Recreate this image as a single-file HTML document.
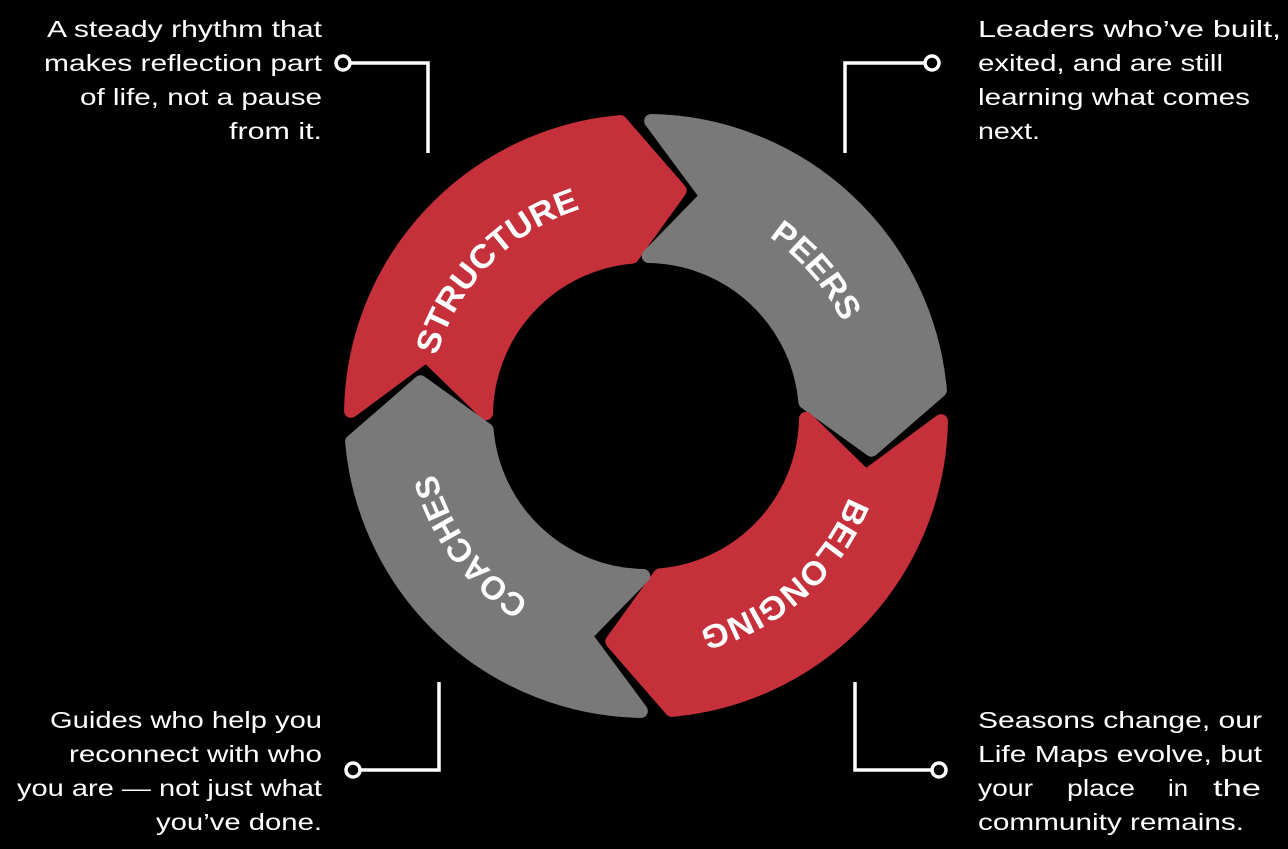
<!DOCTYPE html>
<html><head><meta charset="utf-8"><style>
html,body{margin:0;padding:0;background:#000;}
svg{display:block;}
.t{font-family:"Liberation Sans",Arial,sans-serif;font-size:23px;fill:#fff;}
.s{font-family:"Liberation Sans",Arial,sans-serif;font-size:33px;font-weight:bold;fill:#fff;}
</style></head><body>
<svg width="1288" height="849" viewBox="0 0 1288 849" xmlns="http://www.w3.org/2000/svg">
<rect width="1288" height="849" fill="#000"/>
<defs>
<path id="seg" d="M 351.04 410.85 A 295 295 0 0 1 620.29 122.12 L 679.7 190.5 L 632.05 256.61 A 160 160 0 0 0 486.02 413.21 L 426.3 355.1 Z" stroke-width="14" stroke-linejoin="round"/>
<path id="circ" d="M 646 635 A 217 217 0 1 1 646 199 A 217 217 0 1 1 646 635" fill="none"/>
</defs>
<use href="#seg" fill="#c6303a" stroke="#c6303a"/>
<use href="#seg" fill="#797979" stroke="#797979" transform="rotate(90 646 416)"/>
<use href="#seg" fill="#c6303a" stroke="#c6303a" transform="rotate(180 646 416)"/>
<use href="#seg" fill="#797979" stroke="#797979" transform="rotate(270 646 416)"/>

<text class="s"><textPath href="#circ" startOffset="511" text-anchor="middle" textLength="214" lengthAdjust="spacingAndGlyphs">STRUCTURE</textPath></text>
<text class="s"><textPath href="#circ" startOffset="872" text-anchor="middle" textLength="114" lengthAdjust="spacingAndGlyphs">PEERS</textPath></text>
<text class="s"><textPath href="#circ" startOffset="1212" text-anchor="middle" textLength="207" lengthAdjust="spacingAndGlyphs">BELONGING</textPath></text>
<text class="s"><textPath href="#circ" startOffset="204" text-anchor="middle" textLength="162" lengthAdjust="spacingAndGlyphs">COACHES</textPath></text>

<g stroke="#fff" stroke-width="3.5" fill="none">
<polyline points="350,63 428,63 428,153"/>
<circle cx="343" cy="63" r="7" fill="#000"/>
<polyline points="925,63 845,63 845,153"/>
<circle cx="932" cy="63" r="7" fill="#000"/>
<polyline points="360,770 439,770 439,682"/>
<circle cx="353" cy="770" r="7" fill="#000"/>
<polyline points="932,770 855,770 855,682"/>
<circle cx="939" cy="770" r="7" fill="#000"/>
</g>

<g class="t" text-anchor="end">
<text x="322" y="37" textLength="275" lengthAdjust="spacingAndGlyphs">A steady rhythm that</text>
<text x="322" y="71" textLength="278" lengthAdjust="spacingAndGlyphs">makes reflection part</text>
<text x="322" y="105" textLength="242" lengthAdjust="spacingAndGlyphs">of life, not a pause</text>
<text x="322" y="139" textLength="93" lengthAdjust="spacingAndGlyphs">from it.</text>
<text x="322" y="728" textLength="272" lengthAdjust="spacingAndGlyphs">Guides who help you</text>
<text x="322" y="762" textLength="253" lengthAdjust="spacingAndGlyphs">reconnect with who</text>
<text x="322" y="796" textLength="305" lengthAdjust="spacingAndGlyphs">you are — not just what</text>
<text x="322" y="830" textLength="166" lengthAdjust="spacingAndGlyphs">you’ve done.</text>
</g>
<g class="t">
<text x="978" y="37" textLength="303" lengthAdjust="spacingAndGlyphs">Leaders who’ve built,</text>
<text x="978" y="71" textLength="245" lengthAdjust="spacingAndGlyphs">exited, and are still</text>
<text x="978" y="105" textLength="272" lengthAdjust="spacingAndGlyphs">learning what comes</text>
<text x="978" y="139" textLength="62" lengthAdjust="spacingAndGlyphs">next.</text>
<text x="978" y="728" textLength="284" lengthAdjust="spacingAndGlyphs">Seasons change, our</text>
<text x="978" y="762" textLength="284" lengthAdjust="spacingAndGlyphs">Life Maps evolve, but</text>
<text x="978" y="796" textLength="55" lengthAdjust="spacingAndGlyphs">your</text>
<text x="1067" y="796" textLength="68" lengthAdjust="spacingAndGlyphs">place</text>
<text x="1168" y="796" textLength="20" lengthAdjust="spacingAndGlyphs">in</text>
<text x="1213" y="796" textLength="48" lengthAdjust="spacingAndGlyphs">the</text>
<text x="978" y="830" textLength="266" lengthAdjust="spacingAndGlyphs">community remains.</text>
</g>
</svg>
</body></html>
